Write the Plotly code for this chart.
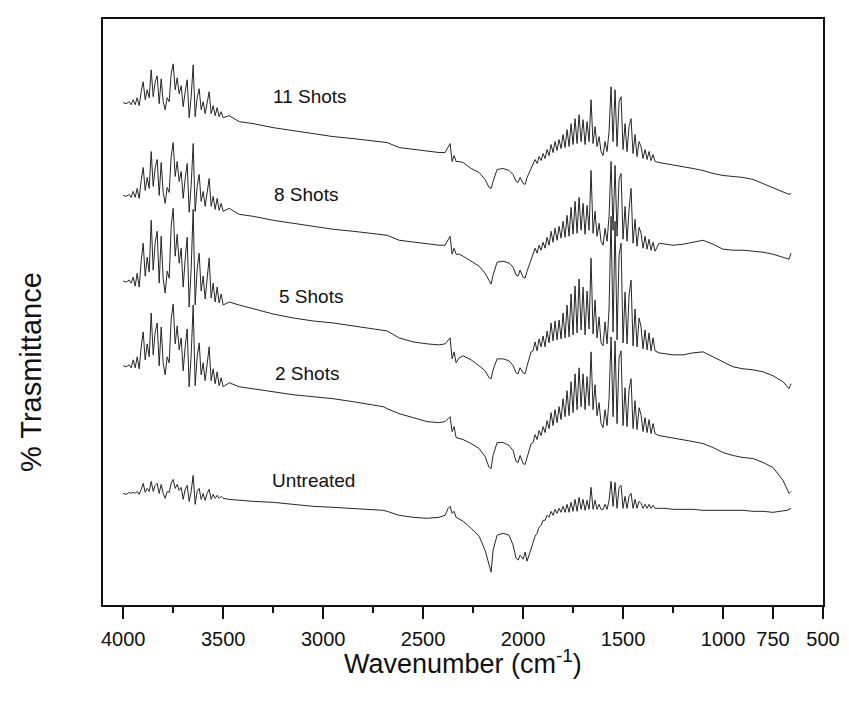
import plotly.graph_objects as go

# Wavenumber grid (cm^-1), shared by all spectra
wavenumber = [
    4000, 3985, 3970, 3960,
    3950, 3940, 3930, 3920, 3910, 3900, 3890, 3880, 3870, 3860,
    3850, 3840, 3830, 3820, 3810, 3800, 3790, 3780, 3770, 3760,
    3750, 3740, 3730, 3720, 3710, 3700, 3690, 3680, 3670, 3660,
    3650, 3640, 3630, 3620, 3610, 3600, 3590, 3580, 3570, 3560,
    3550, 3540, 3530, 3520, 3510, 3500,
    3470, 3420, 3350, 3250, 3150, 3050, 2950, 2850, 2750, 2700,
    2680, 2620, 2550, 2480, 2420, 2390, 2375, 2365, 2355, 2345,
    2335, 2320, 2300, 2260, 2220, 2190, 2170, 2160, 2150, 2130,
    2100, 2070, 2050, 2035, 2025, 2015, 2000, 1990, 1980, 1970,
    1960,
    1950, 1940, 1930, 1920, 1910, 1900, 1890, 1880, 1870, 1860,
    1850, 1840, 1830, 1820, 1810, 1800, 1790, 1780, 1770, 1760,
    1750, 1740, 1730, 1720, 1710, 1700, 1690, 1680, 1670, 1660,
    1650, 1640, 1630, 1620, 1610, 1600, 1590, 1580, 1570, 1560,
    1550, 1540, 1530, 1520, 1510, 1500, 1490, 1480, 1470, 1460,
    1450, 1440, 1430, 1420, 1410, 1400, 1390, 1380, 1370, 1360,
    1350, 1340,
    1320, 1290, 1250, 1200, 1150, 1100, 1050, 1000, 950, 900,
    850, 800, 750, 700, 680, 670, 660,
]

# % Transmittance (arbitrary, vertically offset) for each sample
shots_11 = [
    504, 503, 505, 502,
    507, 502, 509, 501, 515, 525, 507, 517, 509, 537,
    510, 525, 531, 503, 528, 505, 497, 509, 505, 533,
    543, 517, 529, 513, 521, 500, 515, 527, 489, 510,
    542, 490, 509, 518, 497, 505, 493, 505, 515, 493,
    501, 491, 499, 490, 495, 489,
    491, 485, 483, 479, 476, 473, 470, 468, 466, 465,
    464, 459, 457, 455, 454, 454, 459, 463, 445, 451,
    445, 445, 444, 438, 434, 427, 419, 418, 425, 437,
    438, 436, 432, 425, 424, 429, 423, 422, 429, 434,
    438,
    442, 447, 443, 450, 446, 453, 448, 457, 451, 462,
    454, 465, 456, 467, 458, 472, 459, 477, 460, 483,
    462, 488, 463, 492, 465, 487, 462, 485, 465, 507,
    463, 480, 460, 470, 455, 451, 465, 455, 475, 520,
    465, 517, 460, 505, 510, 457, 483, 455, 480, 488,
    453, 472, 450, 465, 460, 448, 457, 447, 455, 446,
    452, 445,
    444, 443, 442, 440, 438, 436, 433, 431, 430, 429,
    427, 423, 419, 415, 413, 412, 413,
]

shots_8 = [
    411, 410, 412, 409,
    415, 409, 418, 408, 426, 439, 416, 429, 418, 455,
    420, 439, 447, 411, 444, 414, 403, 419, 414, 450,
    464, 430, 445, 425, 435, 408, 428, 443, 394, 421,
    463, 395, 420, 432, 405, 415, 400, 415, 428, 400,
    410, 397, 408, 396, 403, 395,
    398, 392, 390, 386, 383, 380, 377, 375, 373, 372,
    371, 366, 364, 362, 361, 361, 366, 370, 352, 358,
    352, 352, 350, 345, 340, 333, 325, 322, 331, 344,
    345, 343, 339, 331, 330, 336, 329, 328, 335, 341,
    345,
    352, 358, 353, 361, 356, 364, 358, 369, 361, 375,
    364, 378, 366, 380, 368, 385, 369, 391, 370, 399,
    372, 405, 373, 409, 376, 403, 372, 401, 376, 436,
    373, 395, 370, 383, 365, 361, 378, 365, 390, 445,
    376, 441, 370, 427, 433, 367, 400, 365, 397, 418,
    363, 387, 360, 379, 373, 358, 370, 357, 367, 356,
    364, 355,
    363, 362, 361, 362, 364, 366, 362, 357, 356, 356,
    355, 354, 352, 349, 348, 347, 353,
]

shots_5 = [
    325, 324, 326, 323,
    329, 320, 333, 319, 345, 363, 330, 349, 334, 386,
    336, 364, 375, 323, 370, 327, 313, 335, 328, 380,
    398, 350, 372, 343, 358, 319, 347, 369, 299, 338,
    397, 301, 337, 353, 315, 330, 307, 330, 348, 308,
    323, 304, 319, 303, 312, 301,
    304, 301, 297, 292, 288, 285, 283, 280, 277, 276,
    275, 268, 264, 262, 261, 262, 265, 268, 247, 254,
    243, 248, 250, 246, 240, 235, 228, 227, 236, 247,
    247, 245, 240, 233, 232, 238, 233, 232, 240, 248,
    254,
    255, 264, 255, 267, 259, 270, 259, 275, 263, 283,
    265, 285, 266, 286, 267, 293, 268, 301, 269, 312,
    271, 320, 273, 327, 276, 319, 271, 315, 277, 348,
    272, 306, 268, 289, 263, 260, 284, 262, 297, 390,
    274, 385, 266, 351, 363, 263, 314, 262, 311, 326,
    260, 297, 259, 288, 279, 257, 276, 256, 273, 255,
    268, 255,
    253, 252, 251, 251, 253, 254, 249, 244, 239, 237,
    236, 234, 230, 224, 220, 217, 222,
]

shots_2 = [
    240, 239, 241, 238,
    246, 238, 249, 237, 259, 274, 246, 262, 249, 293,
    251, 274, 283, 240, 279, 243, 231, 249, 243, 287,
    302, 262, 280, 256, 268, 235, 259, 277, 219, 251,
    301, 220, 249, 263, 231, 243, 225, 243, 259, 225,
    237, 222, 234, 220, 228, 219,
    223, 219, 217, 214, 211, 209, 207, 204, 201, 199,
    197, 192, 188, 184, 183, 184, 187, 189, 174, 179,
    168, 167, 166, 162, 157, 149, 138, 137, 150, 163,
    163, 160, 155, 144, 143, 150, 142, 141, 148, 156,
    162,
    163, 171, 166, 175, 170, 179, 173, 185, 177, 193,
    180, 196, 183, 199, 186, 207, 189, 215, 190, 224,
    193, 232, 196, 238, 199, 232, 196, 229, 200, 254,
    196, 221, 190, 203, 182, 178, 196, 180, 207, 269,
    189, 265, 182, 248, 255, 180, 218, 179, 216, 227,
    177, 205, 176, 198, 191, 174, 188, 173, 186, 172,
    182, 172,
    170, 169, 168, 166, 164, 162, 158, 153, 150, 148,
    147, 143, 138, 125, 117, 112, 114,
]

untreated = [
    112, 111, 113, 112,
    113, 112, 114, 111, 116, 122, 113, 117, 114, 124,
    114, 120, 122, 112, 121, 112, 107, 114, 113, 122,
    126, 117, 121, 115, 118, 106, 116, 120, 104, 114,
    130, 101, 114, 117, 106, 112, 105, 112, 116, 106,
    111, 107, 110, 107, 109, 107,
    106, 105, 104, 103, 101, 99, 98, 97, 96, 95,
    94, 90, 88, 87, 88, 90, 97, 99, 92, 94,
    88, 86, 84, 77, 69, 55, 40, 33, 55, 70,
    72, 70, 60, 47, 45, 50, 46, 53, 44, 50,
    56,
    62, 69, 72, 78, 80, 85, 85, 90, 88, 94,
    90, 96, 92, 97, 93, 99, 93, 101, 93, 103,
    94, 106, 94, 108, 96, 106, 95, 105, 96, 118,
    96, 105, 96, 101, 96, 96, 101, 96, 105, 124,
    99, 123, 97, 118, 120, 97, 109, 97, 109, 112,
    97, 106, 97, 104, 102, 97, 101, 97, 101, 97,
    100, 97,
    97, 97, 96, 96, 96, 95, 95, 95, 95, 95,
    94, 94, 93, 94, 95, 96, 97,
]

series_names = ["11 Shots", "8 Shots", "5 Shots", "2 Shots", "Untreated"]
series_values = [shots_11, shots_8, shots_5, shots_2, untreated]

tick_values = [4000, 3500, 3000, 2500, 2000, 1500, 1000, 750, 500]
tick_labels = ["4000", "3500", "3000", "2500", "2000", "1500", "1000", "750", "500"]
minor_tick_values = [3750, 3250, 2750, 2250, 1750, 1250]

FONT = "Liberation Sans, Arial, sans-serif"

fig = go.Figure()
for name, vals in zip(series_names, series_values):
    fig.add_trace(go.Scatter(
        x=wavenumber, y=vals, mode="lines", name=name,
        line=dict(color="#262626", width=1),
        showlegend=False, hoverinfo="skip",
    ))

# curve labels (data coordinates)
label_pos = {
    "11 Shots": (3064, 510),
    "8 Shots": (3084, 412),
    "5 Shots": (3060, 310),
    "2 Shots": (3079, 232),
    "Untreated": (3049, 125),
}
for name in series_names:
    lx, ly = label_pos[name]
    fig.add_annotation(x=lx, y=ly, text=name, showarrow=False,
                       xanchor="center", yanchor="middle",
                       font=dict(family=FONT, size=19, color="#111111"))

# axis titles
fig.add_annotation(xref="paper", yref="paper", x=0.5, y=-0.097,
                   text="Wavenumber (cm<sup>-1</sup>)", showarrow=False,
                   xanchor="center", yanchor="middle",
                   font=dict(family=FONT, size=27, color="#111111"))
fig.add_annotation(xref="paper", yref="paper", x=-0.101, y=0.398,
                   text="% Trasmittance", showarrow=False, textangle=-90,
                   xanchor="center", yanchor="middle",
                   font=dict(family=FONT, size=29, color="#111111"))

# page body has an 8px default margin; margins compensate so the plot box
# lands at x 103-825, y 17-605 of the 849x705 window
fig.update_layout(
    width=841, height=697,
    margin=dict(l=95, r=24, t=9, b=100),
    paper_bgcolor="white", plot_bgcolor="white",
    font=dict(family=FONT, color="#111111"),
    xaxis=dict(
        range=[4101, 500], showgrid=False, zeroline=False,
        showline=True, linecolor="#111111", linewidth=2, mirror=True,
        ticks="outside", ticklen=12, tickwidth=1.5, tickcolor="#111111",
        tickvals=tick_values, ticktext=tick_labels,
        tickfont=dict(family=FONT, size=20, color="#111111"),
        ticklabelstandoff=3,
        minor=dict(tickvals=minor_tick_values, ticks="outside", ticklen=6,
                   tickwidth=1.5, tickcolor="#111111", showgrid=False),
    ),
    yaxis=dict(
        range=[0, 588], showgrid=False, zeroline=False,
        showline=True, linecolor="#111111", linewidth=2, mirror=True,
        ticks="", showticklabels=False,
    ),
)

fig.write_html("out.html")
